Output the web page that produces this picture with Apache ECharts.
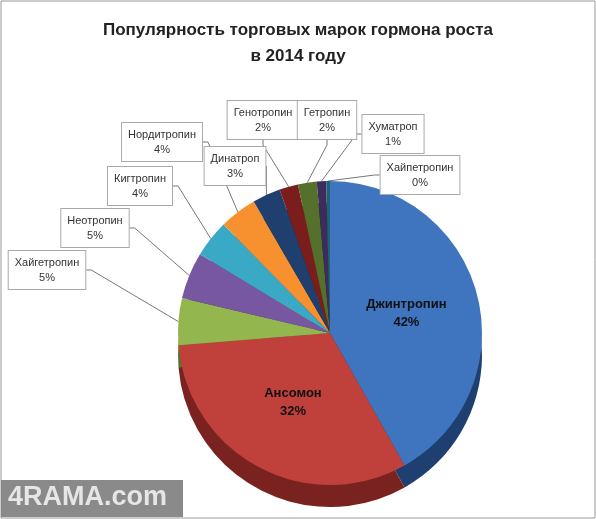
<!DOCTYPE html>
<html><head><meta charset="utf-8">
<script src="https://cdn.jsdelivr.net/npm/echarts@6/dist/echarts.min.js"></script>
<style>html,body{margin:0;padding:0;background:#fff}#c{width:596px;height:519px}</style>
</head><body><div id="c"></div>
<script>
const names=['Джинтропин','Ансомон','Хайгетропин','Неотропин','Кигтропин','Нордитропин','Динатроп','Генотропин','Гетропин','Хуматроп','Хайпетропин'];
const values=[42,32,5,5,4,4,3,2,2,1,0.4];
const labels=['42%','32%','5%','5%','4%','4%','3%','2%','2%','1%','0%'];
const colors=['#3f74be','#c0403b','#93b74e','#7657a0','#3aa9c6','#f7902f','#1f3f6e','#7a1e1d','#55702a','#3b2c5c','#1d6478'];
const dark=['#1f3f70','#7a2220','#5a7330','#4a3565','#236a7c','#a85d1c','#13284a','#4a1212','#34461a','#241a3a','#113e4b'];
const labelPos=[null,null,[47,270],[95,228],[140,186],[162,142],[235,166],[263,120],[327,120],[393,134],[420,175]];
const chart=echarts.init(document.getElementById('c'));
const data=names.map((n,i)=>{
  const big=i<2;
  return {name:n,value:values[i],itemStyle:{color:colors[i]},
    label:big?{position:'inside',formatter:'{b}\n'+labels[i],fontWeight:'bold',fontSize:13,color:'#111',lineHeight:18,backgroundColor:'transparent',borderWidth:0}
      :{formatter:'{b}\n'+labels[i]}};
});
chart.setOption({
  animation:false,
  title:{text:'Популярность торговых марок гормона роста\nв 2014 году',left:'center',top:12,
    textStyle:{fontSize:17,fontWeight:'bold',color:'#222',lineHeight:26,fontFamily:'Liberation Sans'}},
  graphic:[
    {type:'rect',shape:{x:1,y:1,width:594,height:517},style:{fill:'none',stroke:'#999'}},
    {type:'rect',shape:{x:1,y:480,width:182,height:37},style:{fill:'#8a8a8a'},z:100},
    {type:'text',x:8,y:484,z:101,style:{text:'4RAMA.com',fontSize:27,fontWeight:'bold',fill:'#e6e6e6',fontFamily:'Liberation Sans'}}
  ],
  series:[
    {type:'pie',silent:true,center:[330,355],radius:[0,152],startAngle:90,label:{show:false},labelLine:{show:false},
     data:names.map((n,i)=>({name:n,value:values[i],itemStyle:{color:dark[i]}})),z:1},
    {type:'pie',center:[330,333],radius:[0,152],startAngle:90,z:2,
     minShowLabelAngle:0,avoidLabelOverlap:false,
     label:{fontSize:11,color:'#333',backgroundColor:'#fff',borderColor:'#aaa',borderWidth:1,padding:[4,6],lineHeight:15,align:'center'},
     labelLine:{length:10,length2:5,lineStyle:{color:'#777'}},
     labelLayout:function(p){const q=labelPos[p.dataIndex];return q?{x:q[0],y:q[1],align:'center',verticalAlign:'middle'}:{};},
     data:data}
  ]
});
</script></body></html>
